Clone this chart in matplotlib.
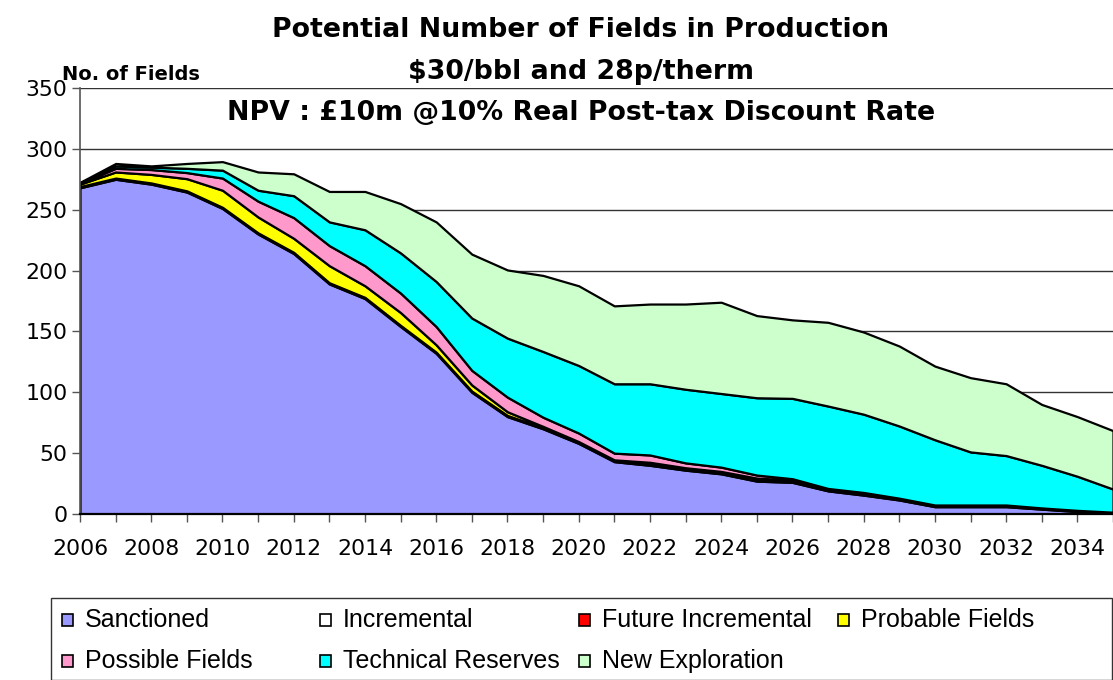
import matplotlib
matplotlib.use("Agg")
import matplotlib.pyplot as plt
from matplotlib.patches import Rectangle
import numpy as np

plt.rcParams['font.family'] = ['DejaVu Sans']

years = list(range(2006, 2036))

sanctioned = [268, 275, 271, 264.5, 251, 230, 214, 189, 177, 154,
              132, 100, 80, 70, 58, 43, 40, 36, 33, 27,
              26, 19, 15.5, 11.5, 6, 6, 6, 4, 2, 0.5]
incremental = [1, 1, 1, 1, 1, 1, 1, 1, 1, 1,
               1, 1, 1, 1, 1, 1, 1, 1, 1, 1.5,
               1, 1, 1, 0.8, 0.8, 0.8, 0.8, 0.6, 0.6, 0.6]
future_incremental = [0] * 30
probable = [2, 5, 7, 10, 14, 13, 11.5, 14, 9.5, 10.5,
            6, 5, 3, 1, 0.5, 0.5, 1.5, 1, 1, 1,
            1, 0.5, 0.6, 0.4, 0.3, 0.3, 0.3, 0.2, 0.2, 0.2]
possible = [0.5, 3, 4, 5, 10, 13, 17, 16.5, 16.5, 16,
            15, 12, 12, 7.5, 7, 5.5, 6, 4, 3.5, 2.5,
            1, 0.5, 0.6, 0.3, 0.3, 0.3, 0.3, 0.2, 0.2, 0.2]
technical = [0.5, 2, 2, 3.5, 6.5, 9, 18, 19.5, 29.5, 33,
             37, 43, 48.5, 54, 55.5, 57, 58.5, 60.5, 60.5, 63.5,
             66, 67.7, 64.3, 59.3, 53.6, 43.6, 40.6, 35, 28, 19]
exploration = [0.5, 2, 1, 4, 7, 15, 18, 25, 31.5, 40.5,
               49, 52.5, 56, 62.5, 65.5, 64, 65.5, 70, 75, 67.5,
               64.5, 68.8, 67.5, 65.7, 60.5, 61, 59, 50, 49, 48]

series_names = ["Sanctioned", "Incremental", "Future Incremental", "Probable Fields",
                "Possible Fields", "Technical Reserves", "New Exploration"]
series_colors = ["#9999FF", "#FFFFFF", "#FF0000", "#FFFF00",
                 "#FF99CC", "#00FFFF", "#CCFFCC"]
y_ticks = [0, 50, 100, 150, 200, 250, 300, 350]
title_lines = ["Potential Number of Fields in Production",
               "$30/bbl and 28p/therm",
               "NPV : £10m @10% Real Post-tax Discount Rate"]

W, H = 1113, 680
fig = plt.figure(figsize=(W / 100, H / 100), dpi=100)
ax = fig.add_axes([80 / W, 1 - 514 / H, (W - 80) / W, (514 - 88) / H])

ax.stackplot(years, sanctioned, incremental, future_incremental, probable,
             possible, technical, exploration, colors=series_colors,
             edgecolor="black", linewidth=1.6, zorder=2)

ax.set_xlim(2006, 2006 + (W - 80) / 35.85)
ax.set_ylim(0, 350)
ax.set_yticks(y_ticks)
ax.set_xticks(years)
ax.set_xticklabels([str(y) if (y - 2006) % 2 == 0 else "" for y in years])
ax.yaxis.grid(True, color="#333333", linewidth=1.0, zorder=0)
ax.set_axisbelow(True)
for s in ["top", "right"]:
    ax.spines[s].set_visible(False)
ax.spines["left"].set_color("#555555")
ax.spines["left"].set_linewidth(1.2)
ax.spines["bottom"].set_color("black")
ax.spines["bottom"].set_linewidth(1.6)
ax.spines["bottom"].set_zorder(5)
ax.tick_params(axis="both", direction="out", length=6, width=1, color="#555555",
               labelsize=15.8, pad=3)
ax.tick_params(axis="x", pad=12)

# Titles
ty = [30, 72, 113]
for line, y in zip(title_lines, ty):
    fig.text(581 / W, 1 - y / H, line.replace("$", r"\$"), ha="center", va="center",
             fontsize=19.3, fontweight="bold")
fig.text(62 / W, 1 - 75 / H, "No. of Fields", ha="left", va="center",
         fontsize=14, fontweight="bold")

# Legend box
fig.patches.append(Rectangle((51 / W, 0), (W - 51) / W - 0.0005, (680 - 598) / H,
                             transform=fig.transFigure, facecolor="white",
                             edgecolor="#333333", linewidth=1.0))
col_x = [62, 320, 579, 838]
row_y = [620, 661]
for i, (name, col) in enumerate(zip(series_names, series_colors)):
    r, c = divmod(i, 4)
    x0 = col_x[c]
    y0 = row_y[r]
    fig.patches.append(Rectangle((x0 / W, 1 - (y0 + 6) / H), 11 / W, 12 / H,
                                 transform=fig.transFigure, facecolor=col,
                                 edgecolor="black", linewidth=1.2))
    fig.text((x0 + 23) / W, 1 - y0 / H, name, ha="left", va="center",
             fontsize=18, family="Liberation Sans")

fig.savefig("out.png", dpi=100)
